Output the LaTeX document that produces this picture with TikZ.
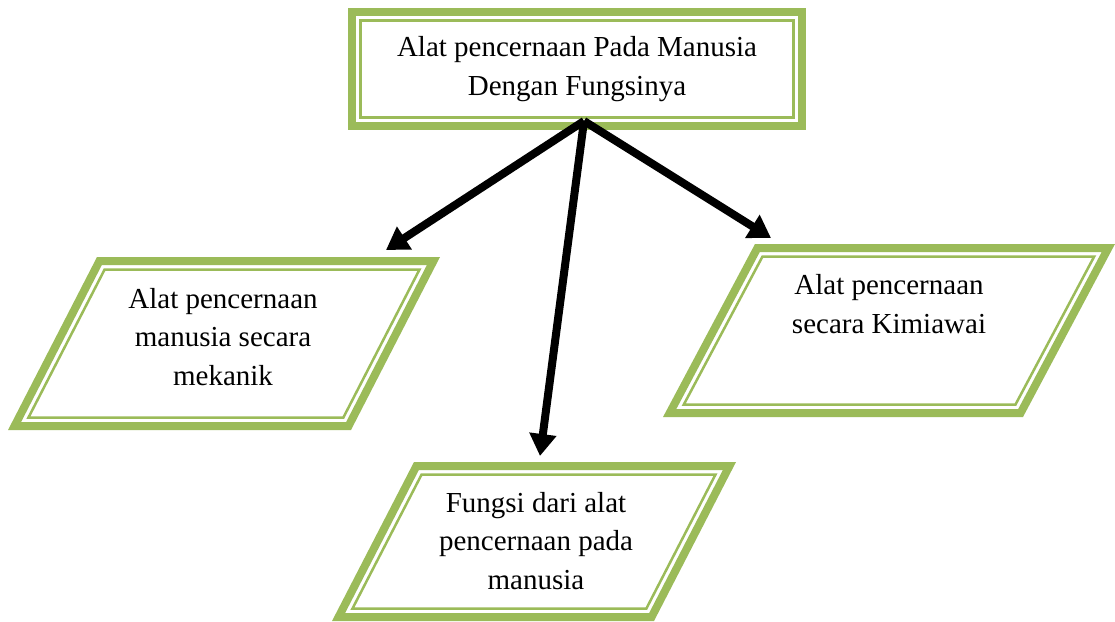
\documentclass[tikz,border=0pt]{standalone}
\usepackage{fontspec}
\setmainfont{Liberation Serif}
\usetikzlibrary{arrows.meta}
\definecolor{olivegreen}{HTML}{9BBB59}
\newcommand\greenpara[5]{% #1 TLx, #2 TLy, #3 width, #4 height, #5 slant offset
  \pgfmathsetmacro\pL{veclen(#5,#4)}%
  \pgfmathsetmacro\pa{(\pL-#5)/#4}%
  \pgfmathsetmacro\pb{(\pL+#5)/#4}%
  \foreach \dd/\lw in {4/8, 12.5/2.5} {
    \draw[line width=\lw pt, olivegreen]
      ({#1+\dd*\pa},{#2+\dd}) -- ({#1+#3-\dd*\pb},{#2+\dd})
      -- ({#1+#3-#5-\dd*\pa},{#2+#4-\dd}) -- ({#1-#5+\dd*\pb},{#2+#4-\dd}) -- cycle;
  }
}
\tikzset{
  label text/.style={align=center, font=\fontsize{29}{38.5}\selectfont, inner sep=0pt},
  conn/.style={line width=8pt, -{Triangle[length=22pt,width=26pt]}}
}
\begin{document}
\begin{tikzpicture}[x=1pt,y=-1pt]
\useasboundingbox (0,0) rectangle (1115,621);
% top box
\draw[olivegreen, line width=8pt] (352,12) rectangle (802,126);
\draw[olivegreen, line width=2.5pt] (360.5,20.5) rectangle (793.5,117.5);
\node[label text] (top) at (577,69) {Alat pencernaan Pada Manusia\\Dengan Fungsinya};
% parallelograms
\greenpara{97}{257}{343}{173}{89}
\node[label text] (mek) at (223,337) {Alat pencernaan\\manusia secara\\mekanik};
\greenpara{755}{244}{360}{173}{92}
\node[label text] (kim) at (889,304) {Alat pencernaan\\secara Kimiawai};
\greenpara{414}{462}{322}{159}{82}
\node[label text] (fun) at (536,541) {Fungsi dari alat\\pencernaan pada\\manusia};
% connectors
\coordinate (src) at (584,121);
\coordinate (tipL) at (386,250);
\coordinate (tipR) at (771,238);
\coordinate (tipD) at (540,456);
\draw[conn] (src) -- (tipL);
\draw[conn] (src) -- (tipR);
\draw[conn] (src) -- (tipD);
\end{tikzpicture}
\end{document}
